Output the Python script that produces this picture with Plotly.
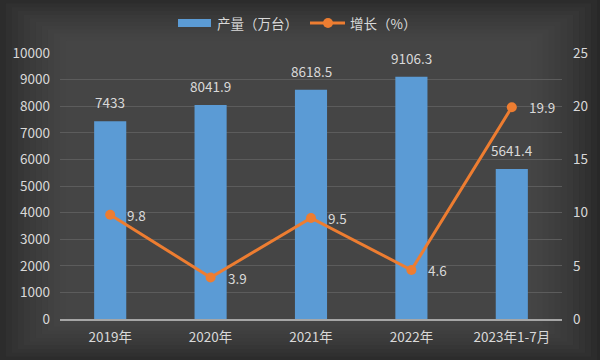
import plotly.graph_objects as go

categories = ["2019年", "2020年", "2021年", "2022年", "2023年1-7月"]
output_vals = [7433, 8041.9, 8618.5, 9106.3, 5641.4]
output_labels = ["7433", "8041.9", "8618.5", "9106.3", "5641.4"]
growth_vals = [9.8, 3.9, 9.5, 4.6, 19.9]
growth_labels = ["9.8", "3.9", "9.5", "4.6", "19.9"]
left_ticks = list(range(0, 10001, 1000))
right_ticks = list(range(0, 26, 5))

FONT = "Noto Sans CJK SC, Noto Sans, sans-serif"
TXT = "#d9d9d9"
BLUE = "#5b9bd5"
ORANGE = "#ed7d31"

L, R, T, B = 60, 38, 53, 41
PW, PH = 600 - L - R, 360 - T - B


def px(x):
    return (x - L) / PW


def py(y):
    return (360 - B - y) / PH


fig = go.Figure()
fig.add_trace(go.Bar(
    x=categories, y=output_vals, name="产量（万台）",
    marker=dict(color=BLUE, line=dict(width=0)),
    width=0.32, showlegend=False,
))
fig.add_trace(go.Scatter(
    x=categories, y=growth_vals, name="增长（%）", yaxis="y2",
    mode="lines+markers",
    line=dict(color=ORANGE, width=3),
    marker=dict(color=ORANGE, size=10),
    cliponaxis=False, showlegend=False,
))

annotations = []
for c, v, t in zip(categories, output_vals, output_labels):
    annotations.append(dict(x=c, y=v, xref="x", yref="y", text=t, showarrow=False,
                            yanchor="bottom", yshift=7,
                            font=dict(size=13.5, color=TXT, family=FONT)))
for c, v, t in zip(categories, growth_vals, growth_labels):
    annotations.append(dict(x=c, y=v, xref="x", yref="y2", text=t, showarrow=False,
                            xanchor="left", xshift=15,
                            font=dict(size=13.5, color=TXT, family=FONT)))
# manual legend
annotations.append(dict(x=px(215), y=py(23), xref="paper", yref="paper", text="产量（万台）",
                        showarrow=False, xanchor="left", yanchor="middle",
                        font=dict(size=13.5, color=TXT, family=FONT)))
annotations.append(dict(x=px(348), y=py(23), xref="paper", yref="paper", text="增长（%）",
                        showarrow=False, xanchor="left", yanchor="middle",
                        font=dict(size=13.5, color=TXT, family=FONT)))

# vignette background layers
shapes = []
for i in range(12):
    shapes.append(dict(type="rect", xref="paper", yref="paper",
                       x0=-0.12 + i * 0.012, x1=1.07 - i * 0.012,
                       y0=-0.155 + i * 0.014, y1=1.2 - i * 0.014,
                       fillcolor="rgba(90,90,90,0.09)", line=dict(width=0), layer="below"))
shapes.append(dict(type="rect", xref="paper", yref="paper", x0=px(178), x1=px(211),
                   y0=py(27), y1=py(19), fillcolor=BLUE, line=dict(width=0)))
shapes.append(dict(type="line", xref="paper", yref="paper", x0=px(310), x1=px(345),
                   y0=py(23), y1=py(23), line=dict(color=ORANGE, width=3)))
shapes.append(dict(type="circle", xref="paper", yref="paper", x0=px(323), x1=px(333),
                   y0=py(28), y1=py(18), fillcolor=ORANGE, line=dict(width=0)))

fig.update_layout(
    width=600, height=360,
    margin=dict(l=L, r=R, t=T, b=B, autoexpand=False),
    paper_bgcolor="#282828", plot_bgcolor="rgba(0,0,0,0)",
    font=dict(family=FONT, color=TXT, size=13),
    showlegend=False,
    xaxis=dict(showgrid=False, showline=True, linecolor="#a6a6a6", linewidth=1.5,
               ticks="", tickfont=dict(size=13.5, color=TXT), zeroline=False,
               automargin=False, ticklabelstandoff=5),
    yaxis=dict(range=[0, 10000], tickvals=left_ticks, ticktext=[str(v) for v in left_ticks],
               showgrid=True, gridcolor="#5c5c5c",
               gridwidth=1, zeroline=False, showline=False, ticks="",
               tickfont=dict(size=13.5, color=TXT), ticklabelstandoff=9, automargin=False),
    yaxis2=dict(range=[0, 25], tickvals=right_ticks, overlaying="y", side="right",
                showgrid=False, zeroline=False, showline=False, ticks="",
                tickfont=dict(size=13.5, color=TXT), ticklabelstandoff=10, automargin=False),
    shapes=shapes,
    annotations=annotations,
)

fig.write_html("out.html", config={"displayModeBar": False},
               post_script="document.body.style.margin='0';document.body.style.overflow='hidden';")
